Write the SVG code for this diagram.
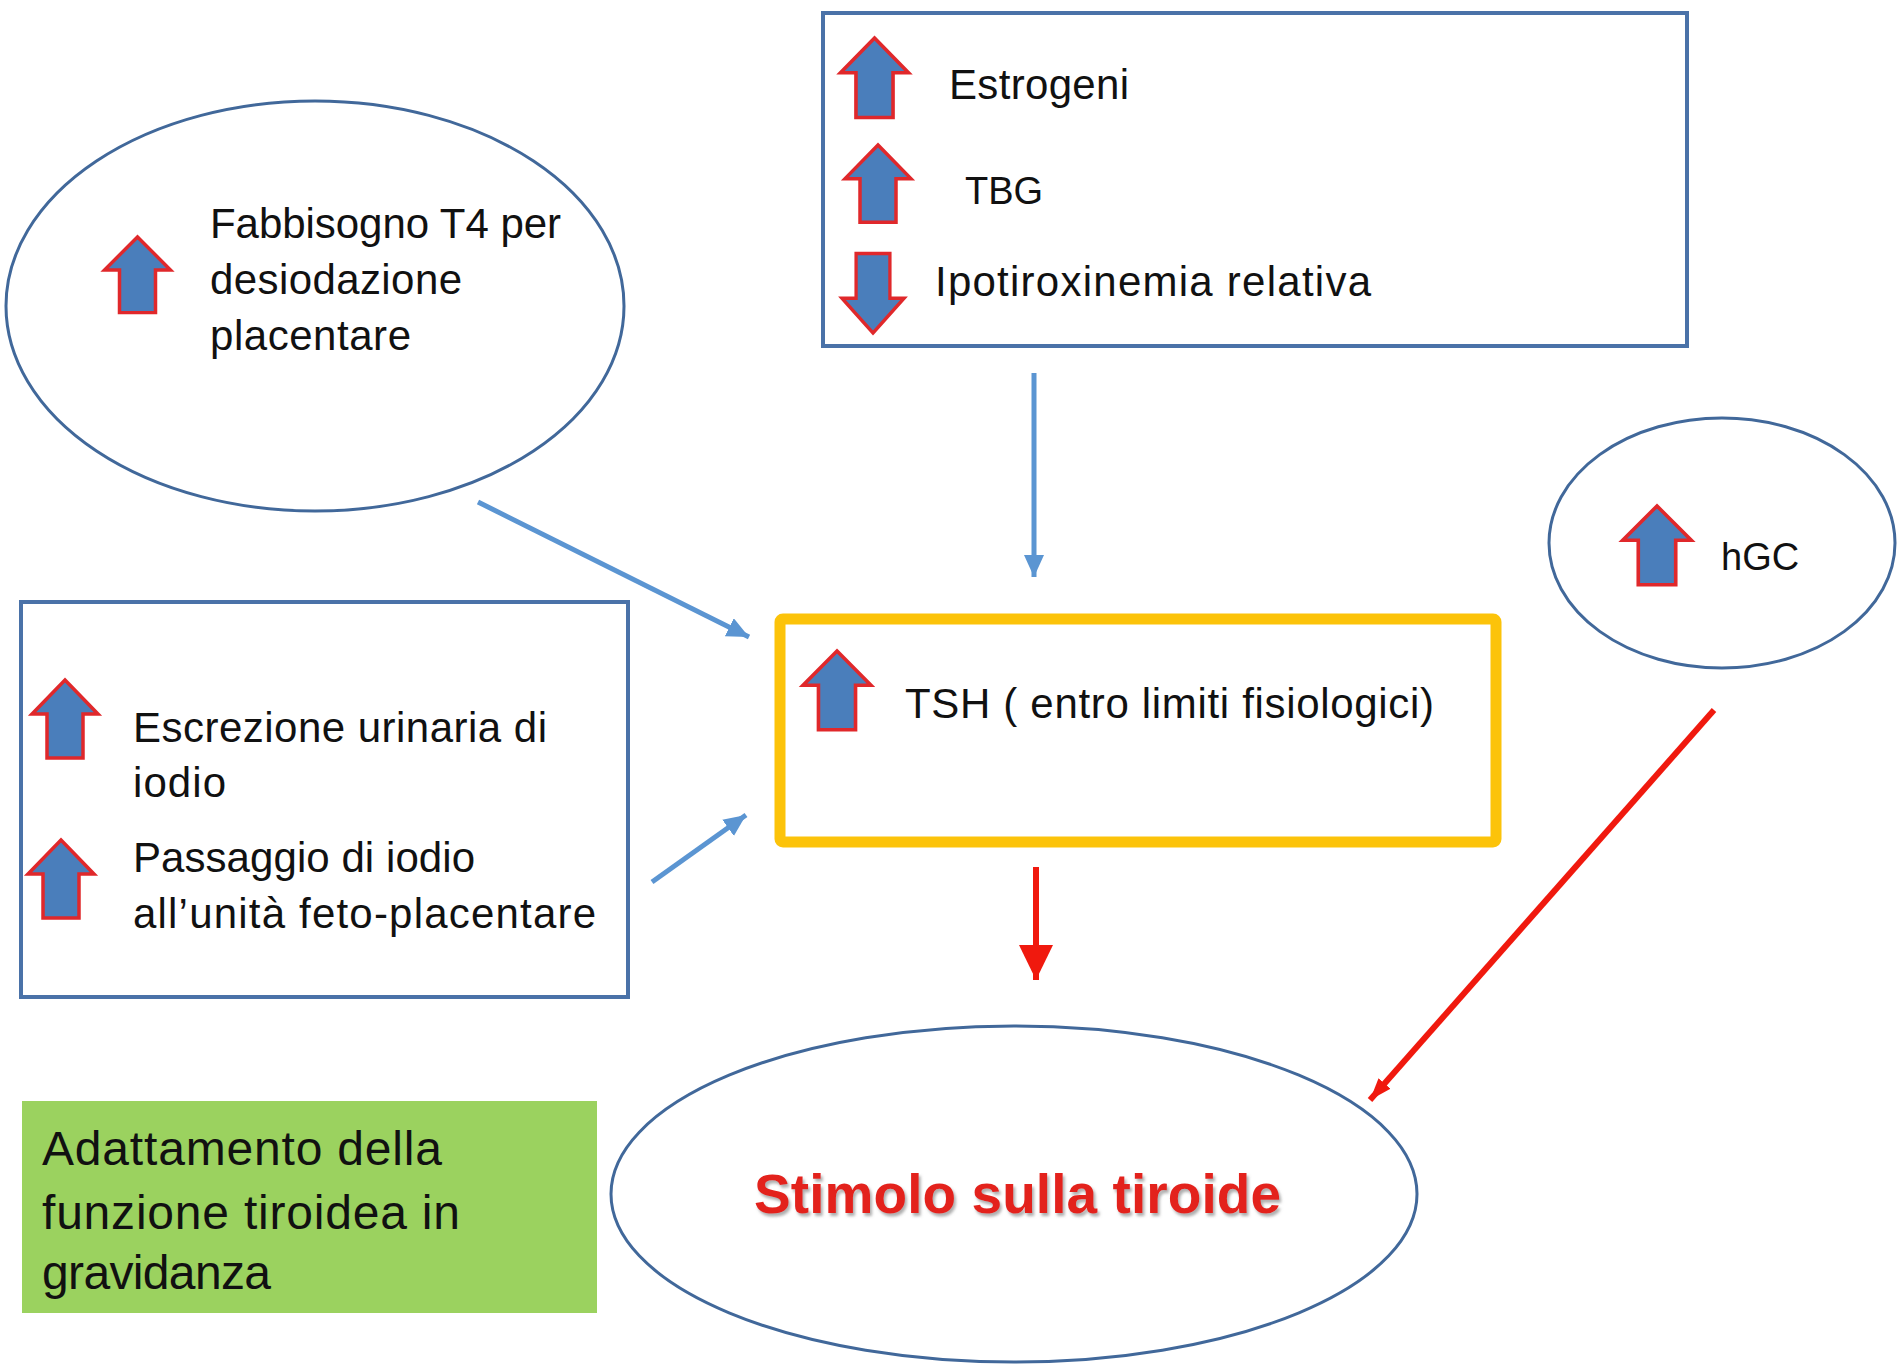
<svg xmlns="http://www.w3.org/2000/svg" xmlns:xlink="http://www.w3.org/1999/xlink" width="1897" height="1365" viewBox="0 0 1897 1365">
<defs>
<style>
.t{font-family:"Liberation Sans",Arial,sans-serif;font-size:42px;fill:#111111}
.g{font-family:"Liberation Sans",Arial,sans-serif;font-size:48px;fill:#111111}
.ell{fill:#ffffff;stroke:#41689a;stroke-width:3}
.box{fill:#ffffff;stroke:#4a72a8;stroke-width:4}
.icon{fill:#4a7ebb;stroke:#e0282b;stroke-width:3.5;stroke-linejoin:miter}
.cb{stroke:#5b95d2;stroke-width:5;fill:none}
.cr{stroke:#f0190e;stroke-width:6;fill:none}
</style>
<path id="up" class="icon" d="M0,0 L33,34 L18,34 L18,78 L-18,78 L-18,34 L-33,34 Z"/>
<marker id="mb" markerUnits="userSpaceOnUse" markerWidth="24" markerHeight="22" refX="22" refY="10" orient="auto" viewBox="0 0 24 22">
<path d="M0,0 L22,10 L0,20 Z" fill="#5b95d2"/>
</marker>
<marker id="mr" markerUnits="userSpaceOnUse" markerWidth="36" markerHeight="36" refX="35" refY="17" orient="auto" viewBox="0 0 36 36">
<path d="M0,0 L35,17 L0,34 Z" fill="#f0190e"/>
</marker>
<marker id="mr2" markerUnits="userSpaceOnUse" markerWidth="24" markerHeight="20" refX="22" refY="8" orient="auto" viewBox="0 0 24 20">
<path d="M0,0 L22,8 L0,16 Z" fill="#f0190e"/>
</marker>
<filter id="sh" x="-10%" y="-30%" width="120%" height="160%">
<feDropShadow dx="2" dy="3" stdDeviation="1.5" flood-color="#777777" flood-opacity="0.6"/>
</filter>
</defs>
<rect width="1897" height="1365" fill="#ffffff"/>

<g id="connectors">
<line class="cb" x1="478" y1="502" x2="749" y2="637" marker-end="url(#mb)"/>
<line class="cb" x1="652" y1="882" x2="746" y2="815" marker-end="url(#mb)"/>
<line class="cb" x1="1034" y1="373" x2="1034" y2="577" marker-end="url(#mb)"/>
<line class="cr" x1="1036" y1="867" x2="1036" y2="980" stroke-width="8" marker-end="url(#mr)"/>
<line class="cr" x1="1714" y1="710" x2="1370" y2="1100" stroke-width="5" marker-end="url(#mr2)"/>
</g>

<g id="node-fabbisogno">
<ellipse class="ell" cx="315" cy="306" rx="309" ry="205"/>
<use xlink:href="#up" href="#up" transform="translate(137.5,237) scale(1,0.97)"/>
<text class="t" x="210" y="238" textLength="351">Fabbisogno T4 per</text>
<text class="t" x="210" y="294" textLength="252">desiodazione</text>
<text class="t" x="210" y="350" textLength="201">placentare</text>
</g>

<g id="node-estrogeni">
<rect class="box" x="823" y="13" width="864" height="333"/>
<use xlink:href="#up" href="#up" transform="translate(874.5,38) scale(1.03,1.02)"/>
<text class="t" x="949" y="99" textLength="180">Estrogeni</text>
<use xlink:href="#up" href="#up" transform="translate(878,145) scale(1,0.99)"/>
<text class="t" x="965" y="204" style="font-size:38px">TBG</text>
<use xlink:href="#up" href="#up" transform="translate(873,333) scale(0.94,-1.02)"/>
<text class="t" x="935" y="296" textLength="436">Ipotiroxinemia relativa</text>
</g>

<g id="node-iodio">
<rect class="box" x="21" y="602" width="607" height="395"/>
<use xlink:href="#up" href="#up" transform="translate(65,680)"/>
<text class="t" x="133" y="742" textLength="414">Escrezione urinaria di</text>
<text class="t" x="133" y="797" textLength="93">iodio</text>
<use xlink:href="#up" href="#up" transform="translate(61,840)"/>
<text class="t" x="133" y="872" textLength="342">Passaggio di iodio</text>
<text class="t" x="133" y="928" textLength="463">all’unità feto-placentare</text>
</g>

<g id="node-tsh">
<rect x="780" y="619" width="716" height="223" rx="3" fill="#ffffff" stroke="#fcc30a" stroke-width="11"/>
<use xlink:href="#up" href="#up" transform="translate(837,651) scale(1.03,1.01)"/>
<text class="t" x="905" y="718" textLength="529">TSH ( entro limiti fisiologici)</text>
</g>

<g id="node-hgc">
<ellipse class="ell" cx="1722" cy="543" rx="173" ry="125"/>
<use xlink:href="#up" href="#up" transform="translate(1657,506) scale(1.04,1.01)"/>
<text class="t" x="1721" y="570" style="font-size:38px">hGC</text>
</g>

<g id="node-stimolo">
<ellipse class="ell" cx="1014" cy="1194" rx="403" ry="168"/>
<text x="754" y="1213" textLength="527" filter="url(#sh)" style="font-family:'Liberation Sans',Arial,sans-serif;font-size:55px;font-weight:bold;fill:#e3231f">Stimolo sulla tiroide</text>
</g>

<g id="node-titolo">
<rect x="22" y="1101" width="575" height="212" fill="#9bd25f"/>
<text class="g" x="42" y="1165" textLength="400">Adattamento della</text>
<text class="g" x="42" y="1229" textLength="418">funzione tiroidea in</text>
<text class="g" x="42" y="1289" textLength="229">gravidanza</text>
</g>
</svg>
